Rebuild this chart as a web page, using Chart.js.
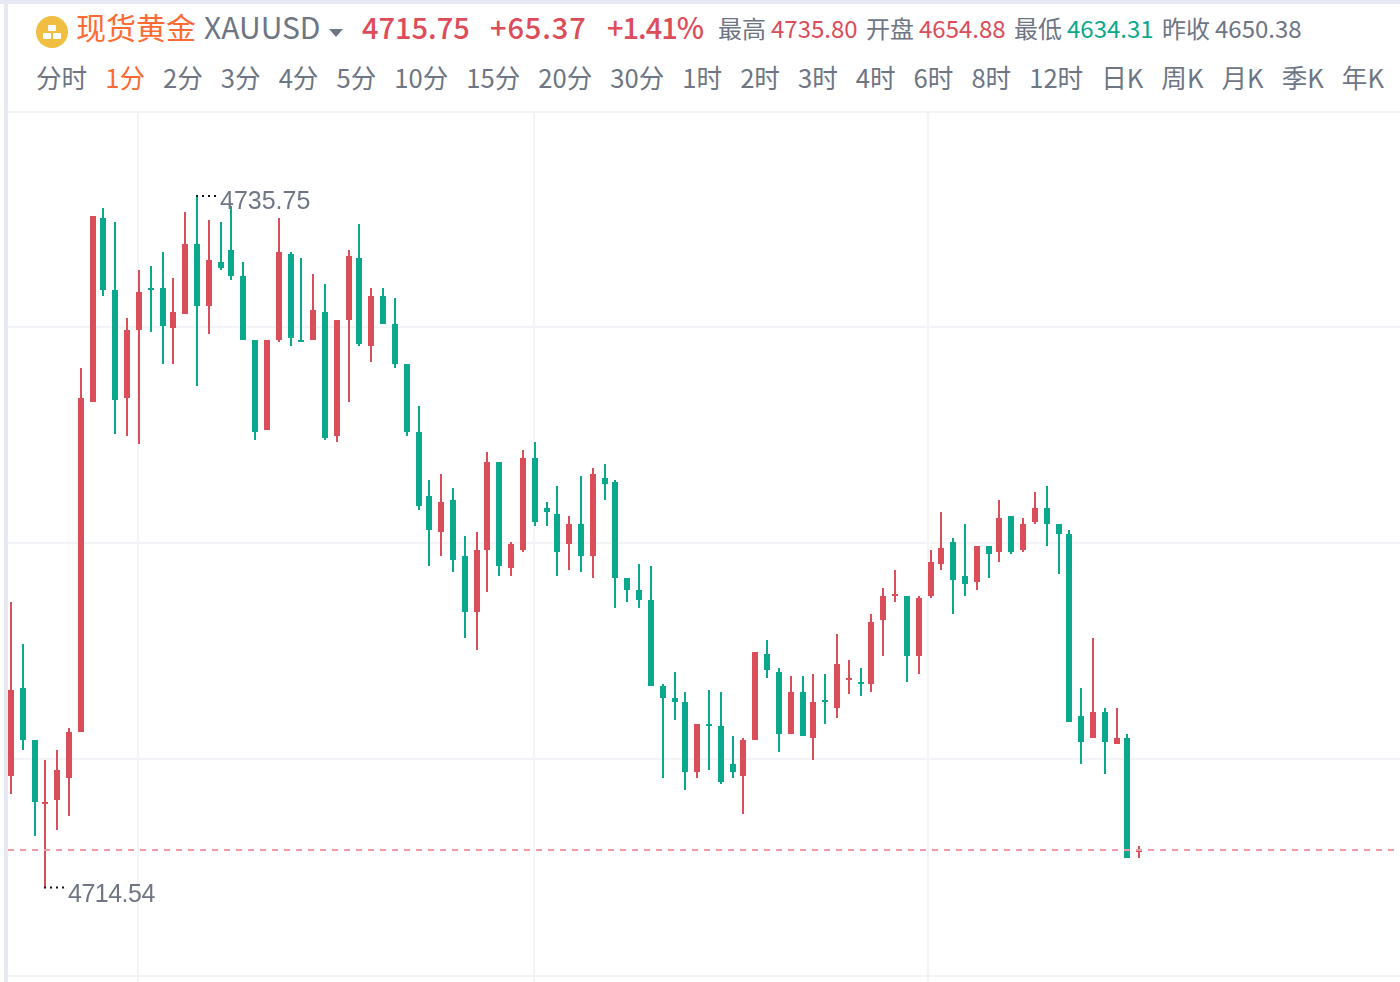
<!DOCTYPE html>
<html>
<head>
<meta charset="utf-8">
<script src="https://cdn.jsdelivr.net/npm/chart.js@4"></script>
<style>
html, body { margin: 0; padding: 0; background: #fff; overflow: hidden; }
body { width: 1400px; height: 982px; position: relative; font-family: "Noto Sans CJK SC", sans-serif; color: #6e7584; }
#top { position: absolute; left: 0; top: 0; width: 1400px; height: 4px; background: #e6e9f2; z-index: 3; }
#left { position: absolute; left: 4px; top: 0; width: 4px; height: 982px; background: #e6e9f2; z-index: 3; }
#head { position: absolute; left: 0; top: 0; width: 1400px; height: 111px; background: #fff; z-index: 2; }
#head span { position: absolute; white-space: nowrap; line-height: 40px; }
#icon { position: absolute; left: 36px; top: 16px; }
.big { top: 6px; font-size: 29px; font-weight: 500; color: #dc4c59; }
.small { top: 8px; font-size: 24px; }
.red { color: #dc4c59; }
.green { color: #0aa98c; }
#tabs { position: absolute; left: 36px; top: 57px; display: flex; gap: 18px; font-size: 25.6px; line-height: 40px; white-space: nowrap; }
#tabs div.on { color: #ff6a33; }
#wrap { position: absolute; left: 8px; top: 110px; }
canvas { display: block; }
</style>
</head>
<body>
<div id="top"></div>
<div id="left"></div>
<div id="head">
  <svg id="icon" width="32" height="32" viewBox="0 0 32 32">
    <circle cx="16" cy="16" r="16" fill="#f0be40"/>
    <rect x="12" y="9" width="8" height="6" rx="1" fill="#fff"/>
    <rect x="7" y="17" width="8" height="6" rx="1" fill="#fff"/>
    <rect x="17" y="17" width="8" height="6" rx="1" fill="#fff"/>
  </svg>
  <span style="left:76px;top:6px;font-size:30px;color:#ff6a33">现货黄金</span>
  <span style="left:204px;top:6px;font-size:30px">XAUUSD</span>
  <svg style="position:absolute;left:329px;top:29px" width="14" height="8"><path d="M0 0H14L7 8Z" fill="#6e7584"/></svg>
  <span class="big" style="left:362px">4715.75</span>
  <span class="big" style="left:490px;letter-spacing:0.9px">+65.37</span>
  <span class="big" style="left:607px;letter-spacing:-1px">+1.41%</span>
  <span class="small" style="left:718px">最高</span>
  <span class="small red" style="left:771px">4735.80</span>
  <span class="small" style="left:866px">开盘</span>
  <span class="small red" style="left:919px">4654.88</span>
  <span class="small" style="left:1014px">最低</span>
  <span class="small green" style="left:1067px">4634.31</span>
  <span class="small" style="left:1162px">昨收</span>
  <span class="small" style="left:1215px">4650.38</span>
  <div id="tabs"></div>
</div>
<div id="wrap"><canvas id="kline" width="1392" height="872"></canvas></div>
<script>
const periods = ['分时','1分','2分','3分','4分','5分','10分','15分','20分','30分','1时','2时','3时','4时','6时','8时','12时','日K','周K','月K','季K','年K']
const activePeriod = '1分'

const opens = [4717.96,4720.66,4719.06,4717.10,4717.22,4717.90,4719.31,4729.43,4735.08,4732.87,
    4729.55,4731.64,4732.93,4732.93,4731.70,4732.13,4734.28,4732.38,4733.73,4734.09,
    4733.30,4731.33,4728.57,4731.33,4733.97,4731.33,4731.33,4732.19,4728.39,4731.95,
    4733.85,4731.15,4732.68,4731.82,4730.60,4728.51,4726.55,4725.44,4726.42,4724.71,
    4722.99,4724.89,4727.59,4724.34,4724.89,4727.71,4726.18,4726.00,4725.08,4725.69,
    4724.71,4727.10,4726.98,4724.03,4723.66,4723.36,4720.72,4720.35,4720.23,4718.08,
    4719.55,4719.49,4718.33,4717.96,4719.06,4721.70,4721.15,4719.25,4720.54,4719.12,
    4720.29,4720.04,4720.90,4720.84,4720.78,4722.74,4723.48,4723.48,4721.64,4723.48,
    4724.46,4725.14,4724.09,4723.91,4725.01,4724.83,4725.93,4724.89,4725.75,4726.18,
    4725.69,4725.38,4719.80,4719.12,4719.92,4718.94,4719.12,4715.63]
const closes = [4720.60,4719.06,4717.16,4717.16,4718.14,4719.31,4729.55,4735.14,4732.87,4729.49,
    4731.64,4732.81,4732.87,4731.76,4732.19,4734.28,4732.38,4733.79,4733.54,4733.30,
    4731.33,4728.51,4731.33,4734.03,4731.39,4731.27,4732.25,4728.33,4731.95,4733.91,
    4731.21,4732.68,4731.82,4730.60,4728.51,4726.24,4725.50,4726.36,4724.58,4722.99,
    4724.89,4727.59,4724.40,4725.08,4727.71,4725.75,4726.06,4724.83,4725.69,4724.71,
    4727.22,4726.92,4724.03,4723.66,4723.36,4720.72,4720.35,4720.23,4718.08,4719.55,
    4719.49,4717.77,4718.08,4719.06,4721.76,4721.21,4719.25,4720.54,4719.19,4720.23,
    4720.23,4721.39,4720.96,4720.78,4722.68,4723.48,4723.54,4721.64,4723.42,4724.52,
    4724.95,4723.97,4723.85,4725.01,4724.77,4725.87,4724.83,4725.69,4726.18,4725.69,
    4725.38,4719.61,4719.00,4719.92,4719.00,4719.12,4715.44,4715.69]
const highs = [4723.30,4722.01,4719.06,4718.45,4718.76,4719.43,4730.47,4735.14,4735.38,4734.95,
    4732.01,4733.48,4733.60,4734.03,4733.23,4735.26,4735.75,4735.01,4734.95,4735.44,
    4733.73,4731.33,4731.33,4735.08,4734.03,4733.85,4733.36,4733.05,4731.95,4734.09,
    4734.89,4732.93,4732.93,4732.62,4730.60,4729.31,4727.04,4727.22,4726.79,4725.32,
    4725.44,4727.90,4727.59,4725.14,4727.96,4728.20,4726.36,4726.85,4725.93,4727.16,
    4727.41,4727.53,4727.04,4724.03,4724.46,4724.40,4720.78,4721.15,4720.54,4719.55,
    4720.60,4720.54,4719.19,4719.12,4721.76,4722.13,4721.27,4721.03,4721.03,4721.09,
    4721.09,4722.31,4721.52,4721.27,4722.93,4723.73,4724.28,4723.48,4723.48,4724.89,
    4726.06,4725.26,4725.69,4725.01,4725.01,4726.42,4725.93,4725.87,4726.67,4726.85,
    4725.69,4725.50,4720.66,4722.19,4720.04,4720.04,4719.25,4715.81]
const lows = [4717.41,4718.76,4716.12,4714.54,4716.30,4716.73,4719.31,4729.43,4732.68,4728.45,
    4728.39,4728.14,4731.58,4730.60,4730.60,4732.13,4729.92,4731.52,4733.48,4733.17,
    4731.33,4728.27,4728.57,4731.27,4731.15,4731.27,4731.33,4728.27,4728.20,4729.43,
    4731.15,4730.66,4731.82,4730.47,4728.39,4726.12,4724.40,4724.71,4724.22,4722.19,
    4721.82,4723.60,4724.09,4724.09,4724.83,4725.63,4725.63,4724.09,4724.28,4724.22,
    4724.03,4726.42,4723.11,4723.30,4723.11,4720.72,4717.90,4719.68,4717.53,4717.90,
    4718.14,4717.71,4717.90,4716.79,4719.06,4720.96,4718.69,4719.25,4719.19,4718.45,
    4719.55,4719.74,4720.47,4720.41,4720.54,4721.64,4723.30,4720.84,4721.09,4723.42,
    4724.28,4722.93,4723.48,4723.66,4724.03,4724.52,4724.77,4724.83,4725.69,4725.01,
    4724.15,4719.61,4718.33,4719.12,4718.02,4718.94,4715.44,4715.44]

const lastLine = 4715.69
const highLabel = '4735.75'
const lowLabel = '4714.54'
const priceGrid = [4738.33, 4731.73, 4725.11, 4718.48, 4711.82]
const timeGrid = [10.9, 45, 78.83]

const red = '#dc4d5a'
const green = '#0aa88c'
const xMin = -0.2406
const xMax = 119.39

// tabs
const tabs = document.getElementById('tabs')
periods.forEach(p => {
    let d = document.createElement('div')
    d.textContent = p
    if (p === activePeriod) d.className = 'on'
    tabs.appendChild(d)
})

let candleColor = opens.map((o, i) => closes[i] >= o ? red : green)
let wickData = opens.map((o, i) => ({ x: i, y: [lows[i], highs[i]] }))
let bodyData = opens.map((o, i) => ({ x: i, y: [o, closes[i]] }))

// snap bars to the 2px grid of the screenshot
function snapOdd(v) {
    return 2 * Math.floor(v / 2) + 1
}
function snapEven(v) {
    return 2 * Math.round(v / 2)
}
const snapBars = {
    id: 'snapBars',
    beforeDatasetsDraw(chart) {
        chart.data.datasets.forEach((ds, k) => {
            if (ds.type === 'line') return
            chart.getDatasetMeta(k).data.forEach(el => {
                el.x = snapOdd(el.x)
                let a = snapEven(Math.min(el.y, el.base))
                let b = snapEven(Math.max(el.y, el.base))
                if (a === b) b = a + 2
                el.y = a
                el.base = b
            })
        })
    }
}

// dotted leader and price text at the extremes
function extremeLabel(ctx, x, y, text, textDy, spacing) {
    ctx.save()
    ctx.strokeStyle = '#111'
    ctx.lineWidth = 2
    ctx.setLineDash([2, 4])
    ctx.beginPath()
    ctx.moveTo(x - 1, y)
    ctx.lineTo(x + 19, y)
    ctx.stroke()
    ctx.restore()
    ctx.save()
    ctx.fillStyle = '#6e7584'
    ctx.font = '25px "Liberation Sans"'
    ctx.letterSpacing = spacing
    ctx.textBaseline = 'middle'
    ctx.fillText(text, x + 23, y + textDy)
    ctx.restore()
}
const extremes = {
    id: 'extremes',
    afterDatasetsDraw(chart) {
        const ctx = chart.ctx
        const sx = chart.scales.x
        const sy = chart.scales.y
        let hi = highs.indexOf(Math.max(...highs))
        let lo = lows.indexOf(Math.min(...lows))
        extremeLabel(ctx, snapOdd(sx.getPixelForValue(hi)), sy.getPixelForValue(highs[hi]), highLabel, 6, '0px')
        extremeLabel(ctx, snapOdd(sx.getPixelForValue(lo)), sy.getPixelForValue(lows[lo]), lowLabel, 8, '-0.5px')
    }
}

const myChart = new Chart(document.getElementById('kline').getContext('2d'), {
    type: 'bar',
    data: {
        datasets: [{
            type: 'line',
            data: [{ x: xMin, y: lastLine }, { x: 118.9, y: lastLine }],
            borderColor: '#f09aa2',
            borderWidth: 2,
            borderDash: [6, 6],
            pointRadius: 0,
            order: 0
        }, {
            data: bodyData,
            backgroundColor: candleColor,
            barThickness: 6,
            grouped: false,
            borderWidth: 0,
            inflateAmount: 0,
            order: 1
        }, {
            data: wickData,
            backgroundColor: candleColor,
            barThickness: 2,
            grouped: false,
            borderWidth: 0,
            inflateAmount: 0,
            order: 2
        }]
    },
    options: {
        responsive: false,
        animation: false,
        layout: { padding: 0 },
        plugins: {
            legend: { display: false },
            tooltip: { enabled: false }
        },
        scales: {
            x: {
                type: 'linear',
                min: xMin,
                max: xMax,
                offset: false,
                ticks: { display: false },
                border: { display: false },
                grid: { color: '#f3f4f8', lineWidth: 2, drawTicks: false, offset: false },
                afterBuildTicks: s => { s.ticks = timeGrid.map(v => ({ value: v })) }
            },
            y: {
                min: 4711.64,
                max: 4738.39,
                ticks: { display: false },
                border: { display: false },
                grid: { color: '#f3f4f8', lineWidth: 2, drawTicks: false },
                afterBuildTicks: s => { s.ticks = priceGrid.map(v => ({ value: v })) }
            }
        }
    },
    plugins: [snapBars, extremes]
});
</script>
</body>
</html>
